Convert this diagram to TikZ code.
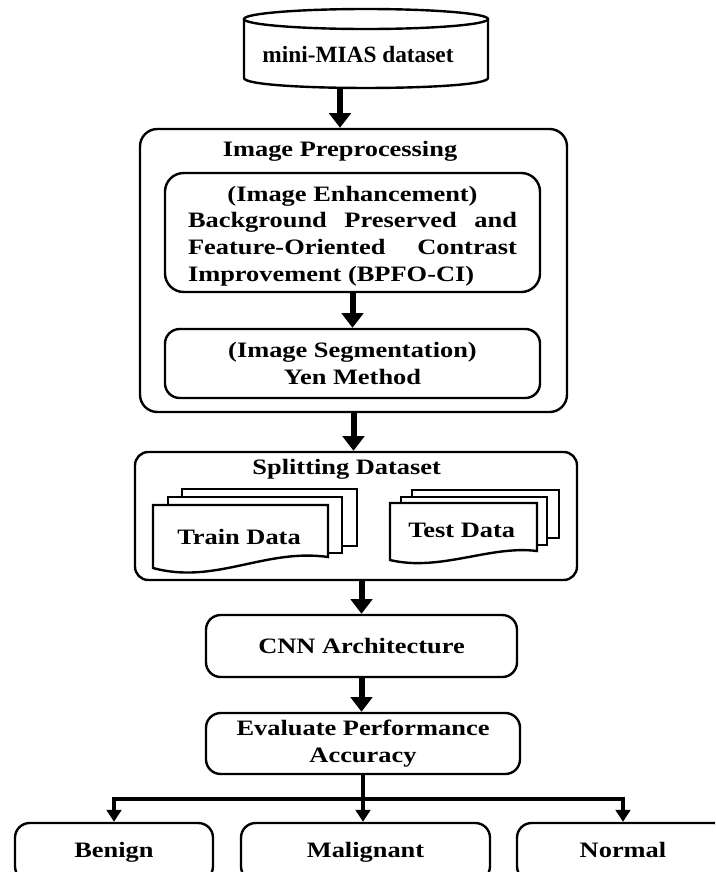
\documentclass[tikz,border=0pt]{standalone}
\usepackage{fontspec}
\setmainfont{Liberation Serif}[FakeStretch=1.2]
\newfontfamily\cylfont{Liberation Serif}
\usetikzlibrary{arrows.meta}
\newdimen\pxu \pxu=0.75pt
\begin{document}
\begin{tikzpicture}[x=0.75pt,y=-0.75pt,
  line join=miter,
  box/.style={draw, line width=1.8pt, rounded corners=11pt, fill=white, align=center,
    inner sep=0pt, font=\bfseries\fontsize{16.5}{20}\selectfont},
  outbox/.style={box, text height=15\pxu, text depth=5\pxu, minimum height=58\pxu},
  txt/.style={inner sep=0pt, align=center, font=\bfseries\fontsize{16.5}{20}\selectfont},
  doc/.style={draw, line width=1.8pt, fill=white},
  arr/.style={line width=4.5pt, -{Triangle[length=11pt,width=16pt]}},
  sarr/.style={line width=3.5pt, -{Triangle[length=9pt,width=11pt]}},
]
\clip (0,0) rectangle (715,872);
\fill[white] (0,0) rectangle (715,872);

% ---- cylinder: mini-MIAS dataset
\draw[line width=1.8pt, fill=white] (244,19) -- (244,78) .. controls (244,91.3) and (488,91.3) .. (488,78) -- (488,19);
\draw[line width=1.8pt, fill=white] (366,19) ellipse [x radius=122, y radius=10];
\node[inner sep=0pt, font=\cylfont\bfseries\fontsize{17.5}{21}\selectfont] (cyl) at (358,55) {mini-MIAS dataset};
\coordinate (cylbot) at (340,88);

% ---- Image preprocessing
\node[box, rounded corners=13pt, minimum width=427\pxu, minimum height=283\pxu] (pre) at (353.5,270.5) {};
\node[txt] (pretitle) at (340,151.5) {Image Preprocessing};
\node[box, rounded corners=14pt, minimum width=375\pxu, minimum height=119\pxu] (enh) at (352.5,232.5) {};
\node[txt, align=left] (enhtext) at (352.5,236) {%
  \makebox[246.75pt]{(Image Enhancement)}\\
  \makebox[246.75pt][s]{Background\hfill Preserved\hfill and}\\
  \makebox[246.75pt][s]{Feature-Oriented\hfill Contrast}\\
  \makebox[246.75pt][l]{Improvement (BPFO-CI)}};
\node[box, minimum width=375\pxu, minimum height=69\pxu] (seg) at (352.5,363.5)
  {(Image Segmentation)\\Yen Method};

% ---- Splitting dataset
\node[box, rounded corners=10pt, minimum width=442\pxu, minimum height=128\pxu] (split) at (356,516) {};
\node[txt] (splittitle) at (346.7,469) {Splitting Dataset};
% train data documents
\draw[doc] (182,489) rectangle (357,546);
\draw[doc] (168,497) rectangle (342,553);
\draw[doc] (153,505) -- (328,505) -- (328,557) .. controls (265,548) and (215,585) .. (153,568) -- cycle;
\node[txt] (train) at (239,536.7) {Train Data};
% test data documents
\draw[doc] (412,490) rectangle (559,538);
\draw[doc] (401,497) rectangle (547,545);
\draw[doc] (390,503) -- (537,503) -- (537,551) .. controls (490,545) and (440,572) .. (390,560) -- cycle;
\node[txt] (test) at (461.7,530) {Test Data};

% ---- CNN and evaluation
\node[box, minimum width=311\pxu, minimum height=62\pxu] (cnn) at (361.5,646) {CNN Architecture};
\node[box, minimum width=314\pxu, minimum height=61\pxu] (evl) at (363,743.5) {Evaluate Performance\\Accuracy};

% ---- outputs
\node[outbox, minimum width=198\pxu] (ben) at (114,852) {Benign};
\node[outbox, minimum width=249\pxu] (mal) at (365.5,852) {Malignant};
\node[outbox, minimum width=212\pxu] (nor) at (623,852) {Normal};

% ---- connectors
\draw[arr] (cylbot) -- (cylbot |- pre.north);
\draw[arr] (enh.south) -- (seg.north);
\draw[arr] (pre.south) -- (pre.south |- split.north);
\draw[arr] (cnn.north |- split.south) -- (cnn.north);
\draw[arr] (cnn.south) -- (cnn.south |- evl.north);
\coordinate (j) at (363,799);
\draw[sarr] (evl.south) -- (evl.south |- mal.north);
\draw[sarr] (j) -| (ben.north);
\draw[sarr] (j) -| (nor.north);
\end{tikzpicture}
\end{document}
